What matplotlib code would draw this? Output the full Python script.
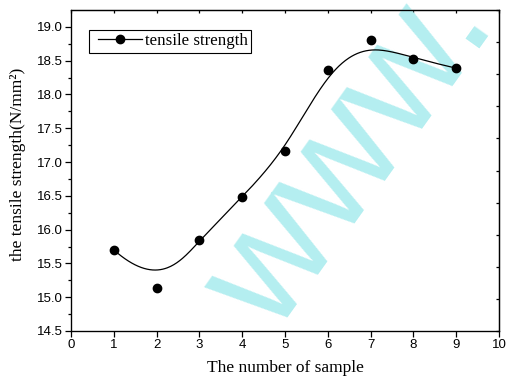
import numpy as np
import matplotlib
matplotlib.use('Agg')
import matplotlib.pyplot as plt
from matplotlib.lines import Line2D
from matplotlib.legend_handler import HandlerLine2D

# sample number vs. measured tensile strength
samples = [1, 2, 3, 4, 5, 6, 7, 8, 9]
strength = [15.70, 15.14, 15.84, 16.48, 17.17, 18.36, 18.80, 18.53, 18.39]

xTicks = [0, 1, 2, 3, 4, 5, 6, 7, 8, 9, 10]
yTicks = [14.5, 15.0, 15.5, 16.0, 16.5, 17.0, 17.5, 18.0, 18.5, 19.0]


def clampedBSpline(px, py, num=400):
    # cubic B-spline using the points as control polygon, clamped at both ends
    n = len(px)
    k = 3
    knots = np.concatenate([np.zeros(k), np.arange(0, n - k + 1), np.full(k, n - k)]).astype(float)
    t = np.linspace(0, n - k, num)
    t[-1] -= 1e-9
    # Cox-de Boor recursion
    basis = np.zeros((num, len(knots) - 1))
    for i in range(len(knots) - 1):
        basis[:, i] = (t >= knots[i]) & (t < knots[i + 1])
    for d in range(1, k + 1):
        newBasis = np.zeros((num, len(knots) - 1 - d))
        for i in range(len(knots) - 1 - d):
            left = 0.0
            right = 0.0
            if knots[i + d] != knots[i]:
                left = (t - knots[i]) / (knots[i + d] - knots[i]) * basis[:, i]
            if knots[i + d + 1] != knots[i + 1]:
                right = (knots[i + d + 1] - t) / (knots[i + d + 1] - knots[i + 1]) * basis[:, i + 1]
            newBasis[:, i] = left + right
        basis = newBasis
    return basis @ np.asarray(px, float), basis @ np.asarray(py, float)


fig = plt.figure(figsize=(5.08, 3.77), dpi=100)
ax = fig.add_axes([71 / 508, 1 - 331 / 377, 428 / 508, 321 / 377])

serif = 'Liberation Serif'
sans = 'Liberation Sans'

# watermark behind the data
ax.text(274 / 508, 1 - 337 / 377, 'www.', transform=fig.transFigure,
        rotation=54.5, rotation_mode='anchor', ha='left', va='baseline',
        fontsize=116, family=sans, color='#b4eef0', zorder=0.5, clip_on=False)

cx, cy = clampedBSpline(samples, strength)
ax.plot(cx, cy, color='black', lw=0.9, zorder=2)
ax.plot(samples, strength, 'o', color='black', markersize=6, zorder=3)

ax.set_xlim(0, 10)
ax.set_ylim(14.5, 19.25)
ax.set_xticks(xTicks)
ax.set_yticks(yTicks)
ax.set_yticks(np.arange(14.75, 19.25, 0.5), minor=True)
ax.set_yticklabels(['%.1f' % v for v in yTicks], family=sans, fontsize=9.5)
ax.set_xticklabels([str(v) for v in xTicks], family=sans, fontsize=9.5)
ax.tick_params(axis='both', which='major', direction='out', length=4.5, width=0.9, pad=1.5)
ax.tick_params(axis='y', which='minor', direction='out', length=2.5, width=0.9)
for spine in ax.spines.values():
    spine.set_linewidth(0.9)

# top ticks point inward, no labels
top = ax.secondary_xaxis('top')
top.set_xticks(xTicks)
top.tick_params(direction='in', length=2.5, width=0.9, labeltop=False)

# right axis with its own ten divisions
right = ax.twinx()
right.set_ylim(0, 10)
right.set_yticks(range(11))
right.tick_params(direction='in', length=2.5, width=0.9, labelright=False)
right.spines['right'].set_linewidth(0.9)

ax.set_xlabel('The number of sample', family=serif, fontsize=12.5)
ax.set_ylabel('the tensile strength(N/mm²)', family=serif, fontsize=12.5)
ax.xaxis.set_label_coords(0.5, -0.09)
ax.yaxis.set_label_coords(-0.105, 0.52)

handle = Line2D([], [], color='black', lw=0.9, marker='o', markersize=6)
leg = ax.legend([handle], ['tensile strength'], loc='upper left',
                bbox_to_anchor=(18 / 428, 1 - 20 / 321), borderaxespad=0,
                prop={'family': serif, 'size': 12.2}, handlelength=2.95,
                handletextpad=0.15, borderpad=0.2, fancybox=False, framealpha=1,
                handler_map={Line2D: HandlerLine2D(xpad=0.33)})
leg.get_frame().set_edgecolor('black')
leg.get_frame().set_linewidth(0.8)

fig.savefig('out.png', dpi=100)
